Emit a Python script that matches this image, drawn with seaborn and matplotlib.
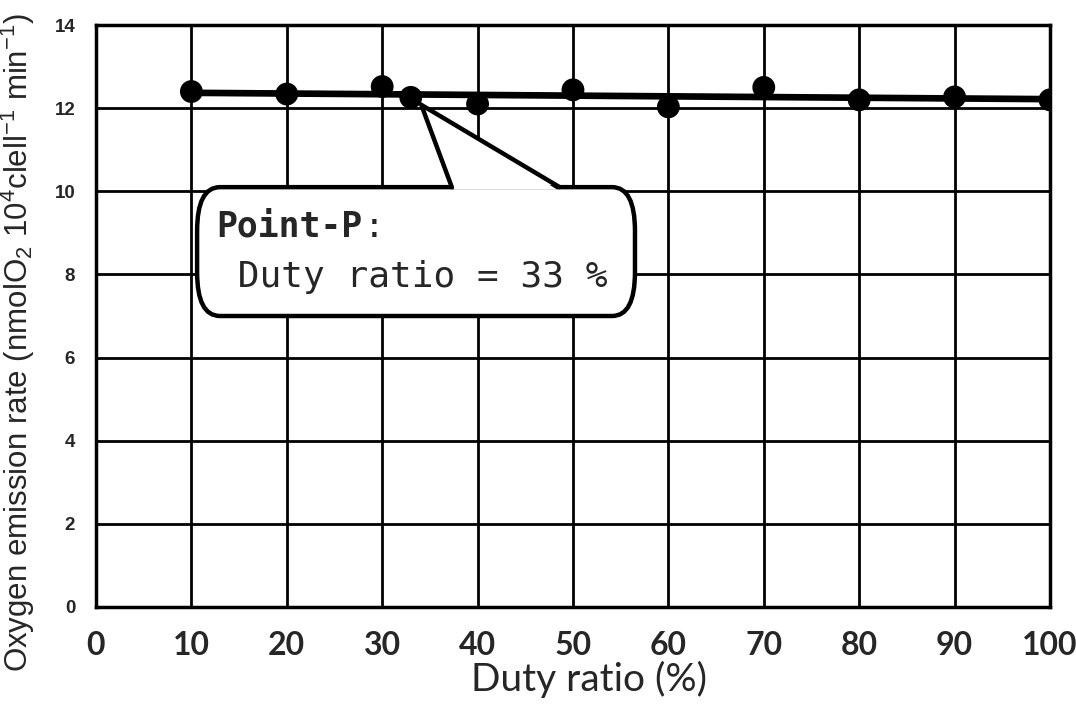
import numpy as np
import pandas as pd
import matplotlib
matplotlib.use("Agg")
import matplotlib.pyplot as plt
import seaborn as sns
from matplotlib.patches import FancyBboxPatch, Polygon

# ---- data ----
duty_ratio = [10, 20, 30, 33, 40, 50, 60, 70, 80, 90, 100]
emission_rate = [12.40, 12.34, 12.52, 12.26, 12.10, 12.44, 12.03, 12.50, 12.20, 12.27, 12.20]
x_ticks = [0, 10, 20, 30, 40, 50, 60, 70, 80, 90, 100]
y_ticks = [0, 2, 4, 6, 8, 10, 12, 14]
x_label = "Duty ratio (%)"
y_label = "Oxygen emission rate (nmolO$_2$ 10$^4$clell$^{-1}$ min$^{-1}$)"
callout_title = "Point-P"
callout_text = " Duty ratio = 33 %"

df = pd.DataFrame({"duty": duty_ratio, "rate": emission_rate})

sns.set_style("white")
plt.rcParams["mathtext.fontset"] = "custom"
plt.rcParams["mathtext.rm"] = "Liberation Sans"
plt.rcParams["mathtext.it"] = "Liberation Sans"
fig = plt.figure(figsize=(10.76, 7.11), dpi=100)
ax = fig.add_axes([0.0892, 0.1463, 0.8866, 0.8185])

sns.regplot(data=df, x="duty", y="rate", ax=ax, ci=None,
            scatter_kws=dict(s=270, color="black", edgecolors="none", zorder=4, alpha=1),
            line_kws=dict(color="black", lw=4.8, zorder=3))

ax.set_xlim(0, 100)
ax.set_ylim(0, 14)
ax.set_xticks(x_ticks)
ax.set_yticks(y_ticks)
ax.grid(True, color="black", lw=2.0, zorder=0)
ax.set_axisbelow(True)
for s in ax.spines.values():
    s.set_color("black")
    s.set_linewidth(2.5)

ax.tick_params(axis="x", direction="out", length=4, width=2, pad=13, labelsize=23)
ax.tick_params(axis="y", direction="out", length=5, width=2, pad=10, labelsize=13.5)
for lab in ax.get_xticklabels():
    lab.set_fontfamily("Lato")
    lab.set_fontweight("bold")
for lab in ax.get_yticklabels():
    lab.set_fontfamily("Liberation Sans")
    lab.set_fontweight("bold")

ax.set_xlabel(x_label, fontsize=28, fontfamily="Lato")
ax.xaxis.set_label_coords(0.517, -0.093)
ax.set_ylabel(y_label, fontsize=22.5, fontfamily="Liberation Sans")
ax.yaxis.set_label_coords(-0.062, 0.455)

# ---- callout ----
box = FancyBboxPatch((10.6, 7.0), 45.9, 3.1,
                     boxstyle="round,pad=0,rounding_size=2.4",
                     mutation_aspect=0.44,
                     facecolor="white", edgecolor="black", lw=3.2, zorder=6)
ax.add_patch(box)
tip = (34.1, 12.08)
b1 = (37.3, 10.1)
b2 = (48.6, 10.1)
tri = Polygon([tip, (b1[0] + 0.25, b1[1] - 0.06), (b2[0] - 0.25, b2[1] - 0.06)],
              closed=True, facecolor="white", edgecolor="none", zorder=7)
ax.add_patch(tri)
ax.plot([b1[0], tip[0], b2[0]], [b1[1], tip[1], b2[1]], color="black",
        lw=3.2, zorder=8, solid_joinstyle="miter")

ax.text(12.6, 9.15, callout_title, fontsize=25, fontweight="bold",
        fontfamily="DejaVu Sans Mono", va="center", ha="left", zorder=9)
ax.text(12.6 + 7 * 2.17 + 0.3, 9.15, ":", fontsize=25,
        fontfamily="DejaVu Sans Mono", va="center", ha="left", zorder=9)
ax.text(12.6, 7.95, callout_text, fontsize=26,
        fontfamily="DejaVu Sans Mono", va="center", ha="left", zorder=9)

fig.savefig("out.png", dpi=100)
